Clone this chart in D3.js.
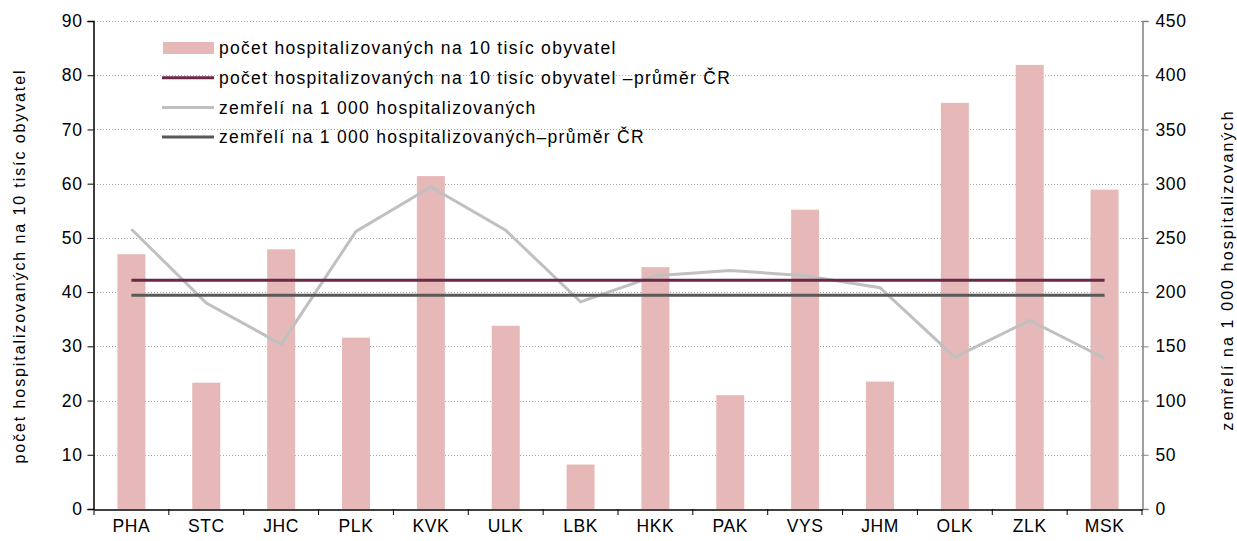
<!DOCTYPE html>
<html>
<head>
<meta charset="utf-8">
<script src="https://cdn.jsdelivr.net/npm/d3@7/dist/d3.min.js"></script>
<style>
  body { margin: 0; background: #fff; }
  text { font-family: "Liberation Sans", Arial, sans-serif; fill: #000; }
</style>
</head>
<body>
<svg id="chart" width="1237" height="541"></svg>
<script>
// regions (kraje)
var regions = ['PHA', 'STC', 'JHC', 'PLK', 'KVK', 'ULK', 'LBK', 'HKK', 'PAK', 'VYS', 'JHM', 'OLK', 'ZLK', 'MSK'];

// hospitalised per 10 thousand inhabitants (left axis)
var hospitalised = [47.0, 23.3, 47.9, 31.6, 61.4, 33.8, 8.2, 44.6, 21.0, 55.2, 23.5, 74.9, 81.9, 58.9];
var hospitalisedAvg = 42.2;

// deaths per 1 000 hospitalised (right axis)
var deaths = [258, 190, 152, 256, 297, 257, 191, 215, 220, 215, 204, 140, 174, 139];
var deathsAvg = 197;

var leftTicks = [0, 10, 20, 30, 40, 50, 60, 70, 80, 90];
var rightTicks = [0, 50, 100, 150, 200, 250, 300, 350, 400, 450];

var legendLabels = [
  'počet hospitalizovaných na 10 tisíc obyvatel',
  'počet hospitalizovaných na 10 tisíc obyvatel –průměr ČR',
  'zemřelí na 1 000 hospitalizovaných',
  'zemřelí na 1 000 hospitalizovaných–průměr ČR'
];

var margin = { left: 94, right: 95, top: 21, bottom: 32 };
var width = 1237, height = 541;
var svg = d3.select('#chart');

var x = d3.scaleBand()
  .domain(regions)
  .range([margin.left, width - margin.right]);

var yLeft = d3.scaleLinear().domain([0, 90]).range([height - margin.bottom, margin.top]);
var yRight = d3.scaleLinear().domain([0, 450]).range([height - margin.bottom, margin.top]);

// dotted grid lines
svg.append('g')
  .selectAll('line')
  .data(leftTicks.slice(1))
  .enter().append('line')
  .attr('x1', margin.left)
  .attr('x2', width - margin.right)
  .attr('y1', function(d) { return Math.round(yLeft(d)) + 0.5; })
  .attr('y2', function(d) { return Math.round(yLeft(d)) + 0.5; })
  .attr('stroke', '#a6a6a6')
  .attr('stroke-width', 1)
  .attr('stroke-dasharray', '1,2');

// bars
var barWidth = 28;
svg.append('g')
  .selectAll('rect')
  .data(regions)
  .enter().append('rect')
  .attr('x', function(d) { return x(d) + x.bandwidth() / 2 - barWidth / 2; })
  .attr('width', barWidth)
  .attr('y', function(d, i) { return yLeft(hospitalised[i]); })
  .attr('height', function(d, i) { return yLeft(0) - yLeft(hospitalised[i]); })
  .attr('fill', '#e6b9b8');

var cx = function(d) { return x(d) + x.bandwidth() / 2; };
var first = regions[0], last = regions[regions.length - 1];

// deaths line
var line = d3.line()
  .x(function(d) { return cx(d); })
  .y(function(d, i) { return yRight(deaths[i]); });

svg.append('path')
  .datum(regions)
  .attr('d', line)
  .attr('fill', 'none')
  .attr('stroke', '#c0c0c0')
  .attr('stroke-width', 3);

// average lines
svg.append('line')
  .attr('x1', cx(first)).attr('x2', cx(last))
  .attr('y1', yLeft(hospitalisedAvg)).attr('y2', yLeft(hospitalisedAvg))
  .attr('stroke', '#6a2947')
  .attr('stroke-width', 3);

svg.append('line')
  .attr('x1', cx(first)).attr('x2', cx(last))
  .attr('y1', yRight(deathsAvg)).attr('y2', yRight(deathsAvg))
  .attr('stroke', '#595959')
  .attr('stroke-width', 3);

// axes
var leftAxis = svg.append('g')
  .attr('transform', 'translate(' + (margin.left - 0.5) + ',0)')
  .call(d3.axisLeft(yLeft).tickValues(leftTicks).tickSize(6).tickPadding(5));
leftAxis.select('.domain').attr('stroke', '#000').attr('stroke-width', 1.5);

var rightAxis = svg.append('g')
  .attr('transform', 'translate(' + (width - margin.right + 0.5) + ',0)')
  .call(d3.axisRight(yRight).tickValues(rightTicks).tickSize(6).tickPadding(7));
rightAxis.select('.domain').attr('stroke', '#808080').attr('stroke-width', 1.5);
rightAxis.selectAll('.tick line').attr('stroke', '#808080');

var bottomAxis = svg.append('g')
  .attr('transform', 'translate(0,' + (yLeft(0) + 0.5) + ')')
  .call(d3.axisBottom(x).tickSize(0).tickPadding(10));
bottomAxis.select('.domain').attr('stroke', '#000').attr('stroke-width', 1.5);

// category separator ticks on the x axis
svg.append('g')
  .selectAll('line')
  .data(regions.concat(['end']))
  .enter().append('line')
  .attr('x1', function(d) { return d === 'end' ? width - margin.right : x(d); })
  .attr('x2', function(d) { return d === 'end' ? width - margin.right : x(d); })
  .attr('y1', yLeft(0))
  .attr('y2', yLeft(0) + 6)
  .attr('stroke', '#000')
  .attr('stroke-width', 1);

svg.selectAll('.tick text')
  .style('font-family', '"Liberation Sans", Arial, sans-serif')
  .style('font-size', '17.5px')
  .style('letter-spacing', '0.6px')
  .attr('fill', '#000');

// axis titles
svg.append('text')
  .attr('transform', 'translate(25,' + 266 + ') rotate(-90)')
  .attr('text-anchor', 'middle')
  .style('font-size', '16px')
  .style('letter-spacing', '1.9px')
  .text('počet hospitalizovaných na 10 tisíc obyvatel');

svg.append('text')
  .attr('transform', 'translate(1233,' + 270 + ') rotate(-90)')
  .attr('text-anchor', 'middle')
  .style('font-size', '16px')
  .style('letter-spacing', '2.1px')
  .text('zemřelí na 1 000 hospitalizovaných');

// legend
var legend = svg.append('g').attr('transform', 'translate(162,48)');
var legendRow = legend.selectAll('g')
  .data(legendLabels)
  .enter().append('g')
  .attr('transform', function(d, i) { return 'translate(0,' + (i * 29.7) + ')'; });

legendRow.each(function(d, i) {
  var g = d3.select(this);
  if (i === 0) {
    g.append('rect').attr('x', 1).attr('y', -6).attr('width', 51).attr('height', 12).attr('fill', '#e6b9b8');
  } else {
    var colors = ['', '#6a2947', '#c0c0c0', '#595959'];
    g.append('line').attr('x1', 0).attr('x2', 52).attr('y1', 0).attr('y2', 0)
      .attr('stroke', colors[i]).attr('stroke-width', 3);
  }
  g.append('text')
    .attr('x', 57)
    .attr('dy', '0.35em')
    .style('font-size', '17.5px')
    .style('letter-spacing', '1.3px')
    .text(d);
});
</script>
</body>
</html>
